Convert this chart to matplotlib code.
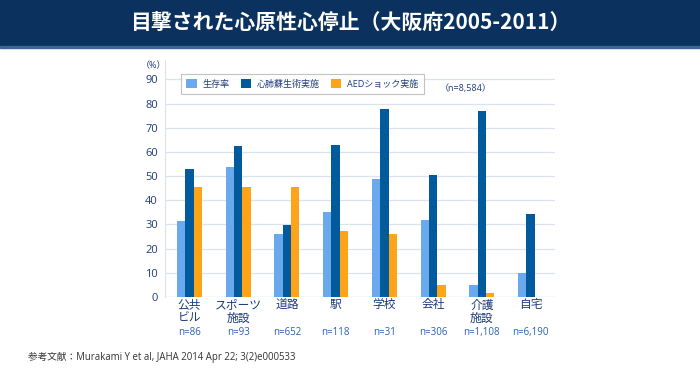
import numpy as np
import matplotlib
matplotlib.use("Agg")
import matplotlib.pyplot as plt
from matplotlib.patches import Rectangle

plt.rcParams['font.family'] = ['Open Sans', 'Noto Sans CJK JP', 'DejaVu Sans']

# データ
places = ["公共\nビル", "スポーツ\n施設", "道路", "駅", "学校", "会社", "介護\n施設", "自宅"]
n_labels = ["n=86", "n=93", "n=652", "n=118", "n=31", "n=306", "n=1,108", "n=6,190"]
survival = [31.3, 53.8, 26.1, 35.2, 48.6, 31.8, 4.8, 10.0]
cpr = [52.8, 62.3, 29.7, 63.0, 77.8, 50.4, 77.0, 34.2]
aed = [45.5, 45.5, 45.5, 27.1, 26.2, 4.8, 1.7, 0.0]
series_names = ["生存率", "心肺蘇生術実施", "AEDショック実施"]
colors = ["#6aa9ee", "#005a9c", "#ffa319"]

W, H = 700, 376
fig = plt.figure(figsize=(7, 3.76), dpi=100)

# タイトルバー
fig.patches.append(Rectangle((0, 1 - 46 / H), 1, 46 / H, transform=fig.transFigure,
                             color="#0b325f", zorder=0))
fig.patches.append(Rectangle((0, 1 - 48 / H), 1, 2 / H, transform=fig.transFigure,
                             color="#3d6591", zorder=0))
fig.text(0.5, 1 - 23 / H, "目撃された心原性心停止（大阪府2005-2011）", color="white",
         fontsize=15, fontweight="bold", ha="center", va="center",
         family=['Noto Sans CJK JP', 'DejaVu Sans'])

ax = fig.add_axes([165 / W, (H - 297) / H, 390 / W, 237 / H])
x = np.arange(len(places))
bw = 0.17
for i, (vals, name, c) in enumerate(zip([survival, cpr, aed], series_names, colors)):
    ax.bar(x + (i - 1) * bw, vals, bw, color=c, label=name, zorder=3)

ax.set_xlim(-0.5, len(places) - 0.5)
ax.set_ylim(0, 98)
ax.set_yticks(range(0, 91, 10))
ax.yaxis.grid(True, color="#dde3ec", lw=0.9, zorder=0)
for s in ["top", "right", "bottom"]:
    ax.spines[s].set_visible(False)
ax.spines["left"].set_color("#dde3ec")
ax.axhline(0, color="#dde3ec", lw=0.9, zorder=1)
ax.tick_params(axis="y", length=0, labelsize=8, labelcolor="#1f3c78", pad=5)
ax.tick_params(axis="x", length=0, labelsize=8.5, labelcolor="#1f3c78", pad=1)
ax.set_xticks(x)
ax.set_xticklabels(places, linespacing=1.0, va="top")
for xi, nl in zip(x, n_labels):
    ax.text(xi, -14.6, nl, ha="center", va="center", fontsize=7, color="#2763b3", clip_on=False)

fig.text(141 / W, 1 - 66 / H, "（%）", fontsize=6.5, color="#1f3c78", ha="left", va="center")
fig.text(440 / W, 1 - 88 / H, "（n=8,584）", fontsize=6.5, color="#1f3c78", ha="left", va="center")

leg = ax.legend(loc="upper left", bbox_to_anchor=(181 / W, 1 - 74 / H), bbox_transform=fig.transFigure,
                ncol=3, fontsize=6.5, frameon=True, fancybox=False, edgecolor="#b4b4b4",
                handlelength=1.2, handleheight=1.1, columnspacing=1.2, handletextpad=0.6,
                borderpad=0.6, borderaxespad=0)
for t in leg.get_texts():
    t.set_color("#1f3c78")
leg.get_frame().set_linewidth(0.8)

fig.text(28 / W, 1 - 357 / H, "参考文献：Murakami Y et al, JAHA 2014 Apr 22; 3(2)e000533",
         fontsize=6.9, color="#333333", ha="left", va="center")

fig.savefig("out.png", dpi=100)
